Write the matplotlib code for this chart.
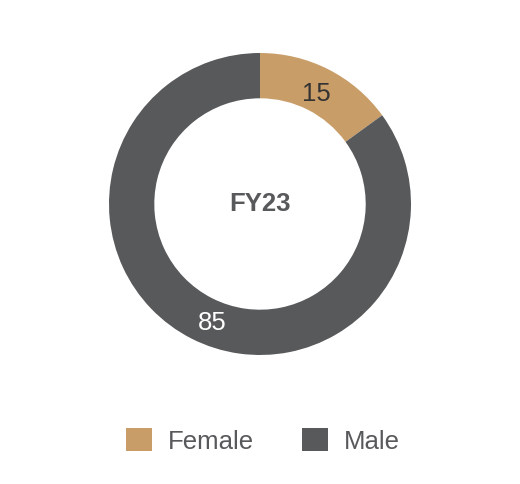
import matplotlib
matplotlib.use('Agg')
import matplotlib.pyplot as plt
from matplotlib.patches import Patch
import numpy as np

labels = ['Female', 'Male']
values = [15, 85]
colors = ['#C99D68', '#58595B']
label_colors = ['#333333', '#FFFFFF']
center_text = 'FY23'

plt.rcParams['font.family'] = ['Liberation Sans', 'DejaVu Sans']

fig = plt.figure(figsize=(5.2, 4.84), dpi=100)
ax = fig.add_axes([109/520, 129/484, 302/520, 302/484])

wedges, texts = ax.pie(values, colors=colors, startangle=90, counterclock=False,
                       radius=1.0, labels=[str(v) for v in values], labeldistance=0.83,
                       wedgeprops=dict(width=0.3, edgecolor='none'))
# nudge the value labels a little (radius, angle offset in deg)
nudges = [(0.82, 0.), (0.85, 5.)]
for w, t, c, (r, da) in zip(wedges, texts, label_colors, nudges):
  a = np.deg2rad(0.5*(w.theta1 + w.theta2) + da)
  t.set_position((r*np.cos(a), r*np.sin(a)))
  t.set_color(c); t.set_fontsize(18.5)
  t.set_horizontalalignment('center'); t.set_verticalalignment('center')
ax.set_xlim(-1, 1); ax.set_ylim(-1, 1)
ax.set_aspect('equal')
ax.text(0, 0, center_text, ha='center', va='center', fontsize=18.5,
        fontweight='bold', color='#58595B')

handles = [Patch(facecolor=c, edgecolor='none') for c in colors]
fig.legend(handles, labels, loc='center', bbox_to_anchor=(263/520, 43/484), ncol=2,
           frameon=False, fontsize=18.5, handlelength=1.0, handleheight=1.0,
           handletextpad=0.6, columnspacing=1.9, labelcolor='#58595B')

fig.savefig('out.png', dpi=100)
